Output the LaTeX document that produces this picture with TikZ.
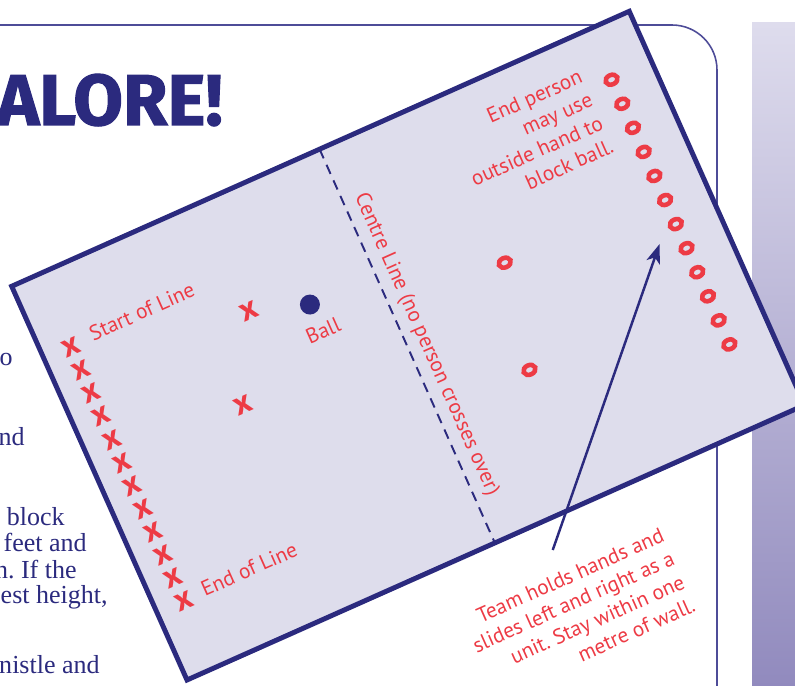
\documentclass[tikz,border=0pt]{standalone}
\usepackage{fontspec}
\setmainfont{Liberation Serif}
\newfontfamily\labelfont{PT Sans}
\newfontfamily\headfont{Fira Sans}[BoldFeatures={FakeBold=1.5}]
\usetikzlibrary{positioning, arrows.meta, shapes.geometric}
\frenchspacing

\definecolor{courtnavy}{RGB}{43,42,126}
\definecolor{courtred}{RGB}{237,59,69}
\definecolor{courtfill}{RGB}{222,221,236}
\definecolor{framenavy}{RGB}{78,76,152}
\definecolor{paneltop}{RGB}{222,220,237}
\definecolor{panelbottom}{RGB}{144,137,189}

\tikzset{
  redlabel/.style={font=\labelfont\fontsize{12.1}{14.5}\selectfont, text=courtred, inner sep=0pt},
  crossmark/.style={font=\labelfont\bfseries\fontsize{19}{19}\selectfont, text=courtred, inner sep=0pt},
  ringmark/.style={ellipse, draw=courtred, line width=2.6pt, minimum width=0.25cm, minimum height=0.19cm, inner sep=0pt},
  bodyline/.style={font=\fontsize{14.8}{15}\selectfont, text=courtnavy, anchor=base east, inner sep=0pt},
}

\begin{document}
\begin{tikzpicture}[x=2cm, y=2cm]
  \useasboundingbox (0,0) rectangle (7.95,6.85);
  \clip (0,0) rectangle (7.95,6.85);
  % Page frame and side panel
  \draw[framenavy, line width=0.9pt, rounded corners=0.9cm] (-0.1,6.60) -- (7.17,6.60) -- (7.17,-0.1);
  \shade[top color=paneltop, bottom color=panelbottom] (7.52,-0.1) rectangle (8.1,6.62);
  % Heading and body text
  \node[font=\headfont\bfseries\fontsize{41}{41}\selectfont, text=courtnavy, anchor=base east, inner sep=0pt] (heading) at (2.23,5.60) {ALORE!};
  \node[bodyline] (line1) at (0.13,3.20) {o};
  \node[bodyline] (line2) at (0.25,2.40) {nd};
  \node[bodyline] (line3) at (0.65,1.60) {block};
  \node[bodyline] (line4) at (0.87,1.34) {feet and};
  \node[bodyline] (line5) at (0.77,1.07) {n. If the};
  \node[bodyline] (line6) at (1.08,0.82) {est height,};
  \node[bodyline] (line7) at (1.00,0.12) {nistle and};
  % Court, turned
  \begin{scope}[shift={(1.87,0.05)}, rotate=24, transform shape]
    \draw[courtnavy, line width=2.8pt, fill=courtfill] (0,0) rectangle (6.76,4.31);
    % Centre line
    \coordinate (ctop) at (3.37,4.31);
    \coordinate (cbottom) at (3.37,0);
    \draw[courtnavy, line width=1.1pt, dash pattern=on 5.7pt off 4pt] (ctop) -- (cbottom);
    \node[redlabel, rotate=-90] (centrelabel) at (3.55,2.09) {Centre Line (no person crosses over)};
    % Team of crosses
    \foreach \i in {1,...,12}
      \node[crossmark] (cross\i) at (0.29,{3.51-(\i-1)*0.2527}) {x};
    \node[crossmark] (crossa) at (2.07,3.11) {x};
    \node[crossmark] (crossb) at (1.63,2.28) {x};
    \node[redlabel, anchor=west] (startlabel) at (0.52,3.55) {Start of Line};
    \node[redlabel, anchor=west] (endlabel) at (0.50,0.76) {End of Line};
    % Ball
    \node[circle, fill=courtnavy, minimum size=0.4cm, inner sep=0pt] (ball) at (2.65,2.93) {};
    \node[redlabel] (balllabel) at (2.665,2.64) {Ball};
    % Team of rings
    \foreach \i in {1,...,12}
      \node[ringmark] (ring\i) at (6.32,{3.757-(\i-1)*0.2634}) {};
    \node[ringmark] (ringa) at (4.60,2.52) {};
    \node[ringmark] (ringb) at (4.39,1.44) {};
    \node[redlabel, align=right, anchor=north east] (endnote) at (6.06,4.00)
      {End person\\may use\\outside hand to\\block ball.};
    % Note below the court
    \node[redlabel, align=right, anchor=north east] (teamnote) at (4.94,-0.525)
      {Team holds hands and\\slides left and right as a\\unit. Stay within one\\metre of wall.};
    \coordinate (arrowtail) at (3.87,-0.30);
    \coordinate (arrowtip) at (6.09,2.06);
    \draw[courtnavy, line width=1.4pt, -{Stealth[length=11pt, width=8pt, inset=3pt]}] (arrowtail) -- (arrowtip);
  \end{scope}
\end{tikzpicture}
\end{document}
